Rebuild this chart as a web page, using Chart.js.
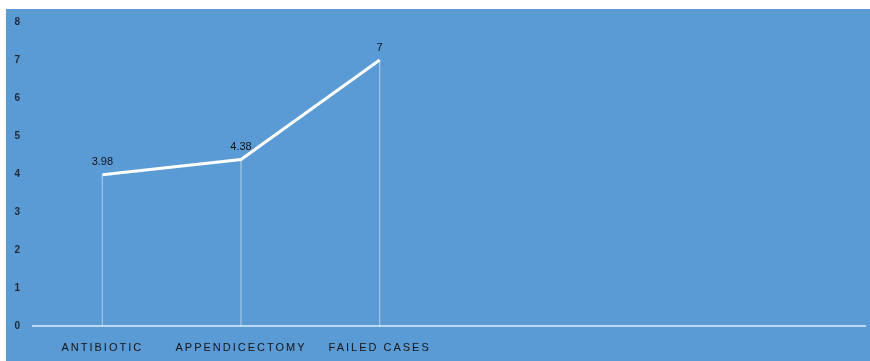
<!DOCTYPE html>
<html>
<head>
<meta charset="utf-8">
<script src="https://cdn.jsdelivr.net/npm/chart.js@4/dist/chart.umd.min.js"></script>
<style>
  html, body { margin: 0; padding: 0; background: #ffffff; }
  #wrap { width: 870px; height: 361px; position: relative; }
</style>
</head>
<body>
<div id="wrap"><canvas id="c" width="870" height="361"></canvas></div>
<script>
// Categories along the x axis (trailing slots are empty)
const categories = ['ANTIBIOTIC', 'APPENDICECTOMY', 'FAILED CASES', '', '', ''];
// Series values
const values = [3.98, 4.38, 7, null, null, null];
// Y axis range
const yMin = 0;
const yMax = 8;

// Blue panel behind the plot
const panelBg = {
  id: 'panelBg',
  beforeDraw(chart) {
    const ctx = chart.ctx;
    ctx.save();
    ctx.fillStyle = '#5b9bd5';
    ctx.fillRect(6, 9, chart.width - 6, chart.height - 9);
    ctx.restore();
  }
};

// Thin vertical drop lines from each point down to zero
const dropLines = {
  id: 'dropLines',
  beforeDatasetsDraw(chart) {
    const ctx = chart.ctx;
    const y0 = chart.scales.y.getPixelForValue(0);
    const meta = chart.getDatasetMeta(0);
    ctx.save();
    ctx.strokeStyle = 'rgba(255,255,255,0.45)';
    ctx.lineWidth = 1.2;
    meta.data.forEach((pt, i) => {
      if (values[i] == null) return;
      ctx.beginPath();
      ctx.moveTo(pt.x, pt.y);
      ctx.lineTo(pt.x, y0);
      ctx.stroke();
    });
    ctx.restore();
  }
};

// Value labels above each point
const valueLabels = {
  id: 'valueLabels',
  afterDatasetsDraw(chart) {
    const ctx = chart.ctx;
    const meta = chart.getDatasetMeta(0);
    ctx.save();
    ctx.fillStyle = '#111111';
    ctx.font = '11px "Liberation Sans", Arial, sans-serif';
    ctx.textAlign = 'center';
    ctx.textBaseline = 'bottom';
    meta.data.forEach((pt, i) => {
      if (values[i] == null) return;
      ctx.fillText(String(values[i]), pt.x, pt.y - 7);
    });
    ctx.restore();
  }
};

// Wide letter spacing for the category labels only
const spacedCategoryLabels = {
  id: 'spacedCategoryLabels',
  afterLayout(chart) {
    const s = chart.scales.x;
    if (s._spaced) return;
    const orig = s.drawLabels.bind(s);
    s.drawLabels = (area) => {
      chart.ctx.save();
      chart.ctx.letterSpacing = '2px';
      orig(area);
      chart.ctx.restore();
    };
    s._spaced = true;
  }
};

new Chart(document.getElementById('c'), {
  type: 'line',
  data: {
    labels: categories,
    datasets: [{
      data: values,
      borderColor: '#ffffff',
      borderWidth: 3,
      pointRadius: 0,
      pointHoverRadius: 0,
      tension: 0,
      fill: false
    }]
  },
  options: {
    responsive: false,
    animation: false,
    events: [],
    layout: { padding: { left: 6, top: 22, right: 5, bottom: 0 } },
    plugins: { legend: { display: false }, tooltip: { enabled: false } },
    scales: {
      x: {
        offset: true,
        grid: { display: false, drawTicks: false },
        border: { display: true, color: 'rgba(255,255,255,0.6)', width: 2 },
        ticks: {
          color: '#141414',
          font: { family: '"Liberation Sans", Arial, sans-serif', size: 11 },
          padding: 15,
          maxRotation: 0,
          autoSkip: false
        },
        afterFit(s) { s.height = 35; }
      },
      y: {
        min: yMin,
        max: yMax,
        grid: { display: false, drawTicks: false },
        border: { display: false },
        ticks: {
          stepSize: 1,
          color: '#1f2733',
          font: { family: '"Liberation Sans", Arial, sans-serif', size: 10, weight: 'bold' },
          padding: 13
        },
        afterFit(s) { s.width = 27; }
      }
    }
  },
  plugins: [panelBg, dropLines, valueLabels, spacedCategoryLabels]
});
</script>
</body>
</html>
